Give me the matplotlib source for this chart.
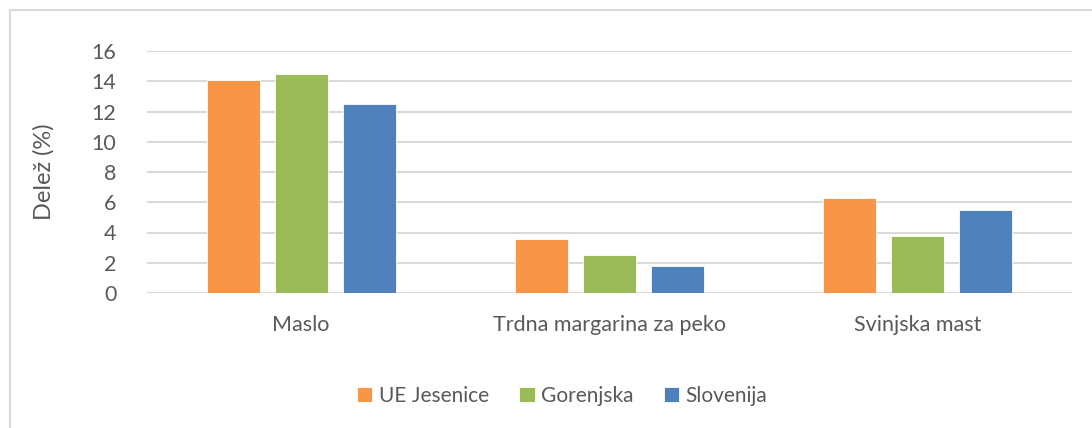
import matplotlib.pyplot as plt
import numpy as np

categories = ['Maslo', 'Trdna margarina za peko', 'Svinjska mast']
series_names = ['UE Jesenice', 'Gorenjska', 'Slovenija']
ue_jesenice = [14.1, 3.6, 6.3]
gorenjska = [14.5, 2.5, 3.8]
slovenija = [12.5, 1.8, 5.5]
yticks = [0, 2, 4, 6, 8, 10, 12, 14, 16]

COLORS = ['#F79646', '#9BBB59', '#4F81BD']
TEXT = '#595959'
GRID = '#D9D9D9'

plt.rcParams['font.family'] = ['Lato', 'DejaVu Sans']

fig = plt.figure(figsize=(10.92, 4.28), dpi=100)
ax = fig.add_axes([147 / 1092, 1 - 293 / 428, (1072 - 147) / 1092, (293 - 51) / 428])

x = np.arange(len(categories))
width = 0.172
step = 0.221
for i, (name, vals) in enumerate(zip(series_names, [ue_jesenice, gorenjska, slovenija])):
    ax.bar(x + (i - 1) * step, vals, width, color=COLORS[i], label=name,
           edgecolor='white', linewidth=0.6, zorder=3)

ax.set_xlim(-0.5, len(categories) - 0.5)
ax.set_ylim(0, 16)
ax.set_yticks(yticks)
ax.set_xticks(x)
ax.set_xticklabels(categories)
ax.tick_params(axis='both', length=0, colors=TEXT, labelsize=15.5)
ax.tick_params(axis='x', pad=16)
ax.tick_params(axis='y', pad=22)
ax.yaxis.grid(True, color=GRID, linewidth=1.5, zorder=0)
for s in ax.spines.values():
    s.set_visible(False)
ax.set_ylabel('Delež (%)', color=TEXT, fontsize=17)
ax.yaxis.set_label_coords(-(147 - 55) / (1072 - 147), 0.5)

# outer chart border (top and left visible)
fig.add_artist(plt.Line2D([10 / 1092, 1], [1 - 10 / 428] * 2, color=GRID, linewidth=1.5,
                          transform=fig.transFigure))
fig.add_artist(plt.Line2D([10 / 1092] * 2, [0, 1 - 10 / 428], color=GRID, linewidth=1.5,
                          transform=fig.transFigure))

leg = fig.legend(loc='center', bbox_to_anchor=(562 / 1092, 1 - 396 / 428), ncol=3,
                 frameon=False, fontsize=15, handlelength=0.75, handleheight=0.75,
                 handletextpad=0.3, columnspacing=1.45)
for t in leg.get_texts():
    t.set_color(TEXT)

fig.savefig('out.png', dpi=100, facecolor='white')
